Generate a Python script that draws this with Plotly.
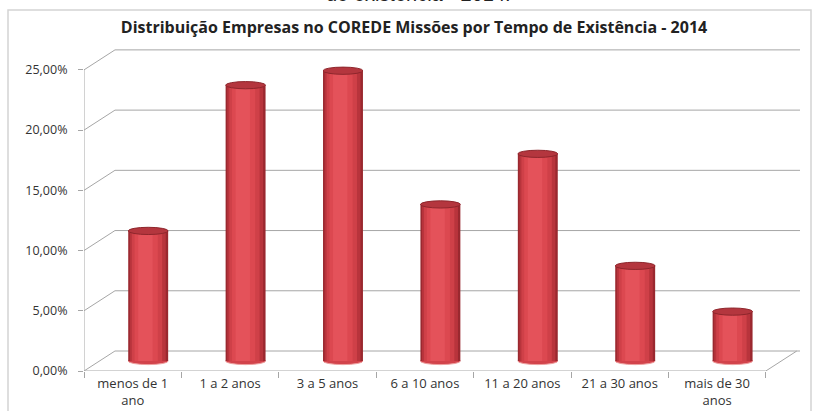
import plotly.graph_objects as go

categories = ["menos de 1<br>ano", "1 a 2 anos", "3 a 5 anos", "6 a 10 anos",
              "11 a 20 anos", "21 a 30 anos", "mais de 30<br>anos"]
values = [10.8, 22.9, 24.1, 13.0, 17.2, 7.9, 4.1]
tick_vals = [0, 5, 10, 15, 20, 25]
tick_text = ["0,00%", "5,00%", "10,00%", "15,00%", "20,00%", "25,00%"]
title_text = "Distribuição Empresas no COREDE Missões por Tempo de Existência - 2014"
caption_text = "de existência - 2014."

# 3D look parameters (pseudo-depth)
DX = 0.318      # depth offset in category units
DY = 1.66       # depth offset in % units
BAR_W = 0.41
MID_X = DX / 2
MID_Y = DY / 2
XMAX = 6.851
YMAX = 26.9
GRID = "#a6a6a6"

n = len(categories)
idx = list(range(n))

fig = go.Figure()

# gradient layers for cylinder bodies
layers = [
    (1.00, 0.00, "#9a282f"),
    (0.90, -0.01, "#b8343c"),
    (0.76, -0.03, "#cf4048"),
    (0.58, -0.05, "#dc4850"),
    (0.36, -0.07, "#e4525a"),
]
for frac, shift, col in layers:
    w = BAR_W * frac
    fig.add_trace(go.Bar(
        x=categories, y=values, base=[MID_Y] * n,
        width=w, offset=MID_X - w / 2 + shift * BAR_W,
        marker=dict(color=col, line=dict(width=0)),
        hoverinfo="skip", showlegend=False,
    ))

shapes = []
# back wall + left wall grid lines
for v in tick_vals:
    shapes.append(dict(type="line", x0=-0.5, y0=v, x1=-0.5 + DX, y1=v + DY,
                       line=dict(color=GRID, width=1), layer="below"))
    shapes.append(dict(type="line", x0=-0.5 + DX, y0=v + DY, x1=XMAX, y1=v + DY,
                       line=dict(color=GRID, width=1), layer="below"))
# floor edges
shapes.append(dict(type="line", x0=-0.5, y0=0, x1=n - 0.5, y1=0,
                   line=dict(color=GRID, width=1), layer="below"))
shapes.append(dict(type="line", x0=n - 0.5, y0=0, x1=n - 0.5 + DX, y1=DY,
                   line=dict(color=GRID, width=1), layer="below"))
# front vertical axis
shapes.append(dict(type="line", x0=-0.5, y0=0, x1=-0.5, y1=tick_vals[-1],
                   line=dict(color=GRID, width=1), layer="below"))

EH = 0.30  # ellipse half-height in % units
for i, v in zip(idx, values):
    cx = i + MID_X
    # bottom ellipse (under the body)
    shapes.append(dict(type="circle", x0=cx - BAR_W / 2, x1=cx + BAR_W / 2,
                       y0=MID_Y - EH, y1=MID_Y + EH,
                       fillcolor="#d2434b", line=dict(color="#eea0a0", width=1),
                       layer="between"))
    # top ellipse
    shapes.append(dict(type="circle", x0=cx - BAR_W / 2, x1=cx + BAR_W / 2,
                       y0=v + MID_Y - EH, y1=v + MID_Y + EH,
                       fillcolor="#b4363e", line=dict(color="#8e262c", width=1),
                       layer="above"))

# outer frame
shapes.append(dict(type="rect", xref="paper", yref="paper",
                   x0=(8 - 84) / 716, x1=(811 - 84) / 716,
                   y0=(371 - 430) / 324, y1=(371 - 10) / 324,
                   line=dict(color="#d4d4d4", width=1.5), fillcolor="rgba(0,0,0,0)",
                   layer="below"))

fig.update_layout(
    width=813, height=411,
    margin=dict(l=84, r=13, t=47, b=40, autoexpand=False),
    paper_bgcolor="white", plot_bgcolor="white",
    barmode="overlay",
    shapes=shapes,
    font=dict(family="Open Sans", color="#404040", size=12),
    title=dict(text="<b>" + title_text + "</b>", x=414 / 813, xanchor="center",
               y=1 - 27 / 411, yanchor="middle",
               font=dict(family="Open Sans", size=16, color="#222222")),
    xaxis=dict(type="category", range=[-0.5, XMAX], tickson="boundaries",
               ticks="outside", ticklen=6, tickcolor=GRID, showgrid=False,
               showline=False, zeroline=False, automargin=False,
               ticklabelstandoff=3,
               tickfont=dict(size=13, color="#333333")),
    yaxis=dict(range=[0, YMAX], tickvals=tick_vals, ticktext=tick_text,
               ticks="outside", ticklen=5, tickcolor=GRID, showgrid=False,
               showline=False, zeroline=False, automargin=False,
               ticklabelstandoff=8,
               tickfont=dict(size=12.5, color="#333333")),
    annotations=[dict(text=caption_text, xref="paper", yref="paper",
                      x=(418 - 84) / 716, y=(371 - 7) / 324, xanchor="center",
                      yanchor="bottom", showarrow=False,
                      font=dict(family="Liberation Sans", size=20, color="#222"))],
)

fig.write_html("out.html", config={"displayModeBar": False},
               post_script="document.body.style.margin='0';document.body.style.overflow='hidden';")
